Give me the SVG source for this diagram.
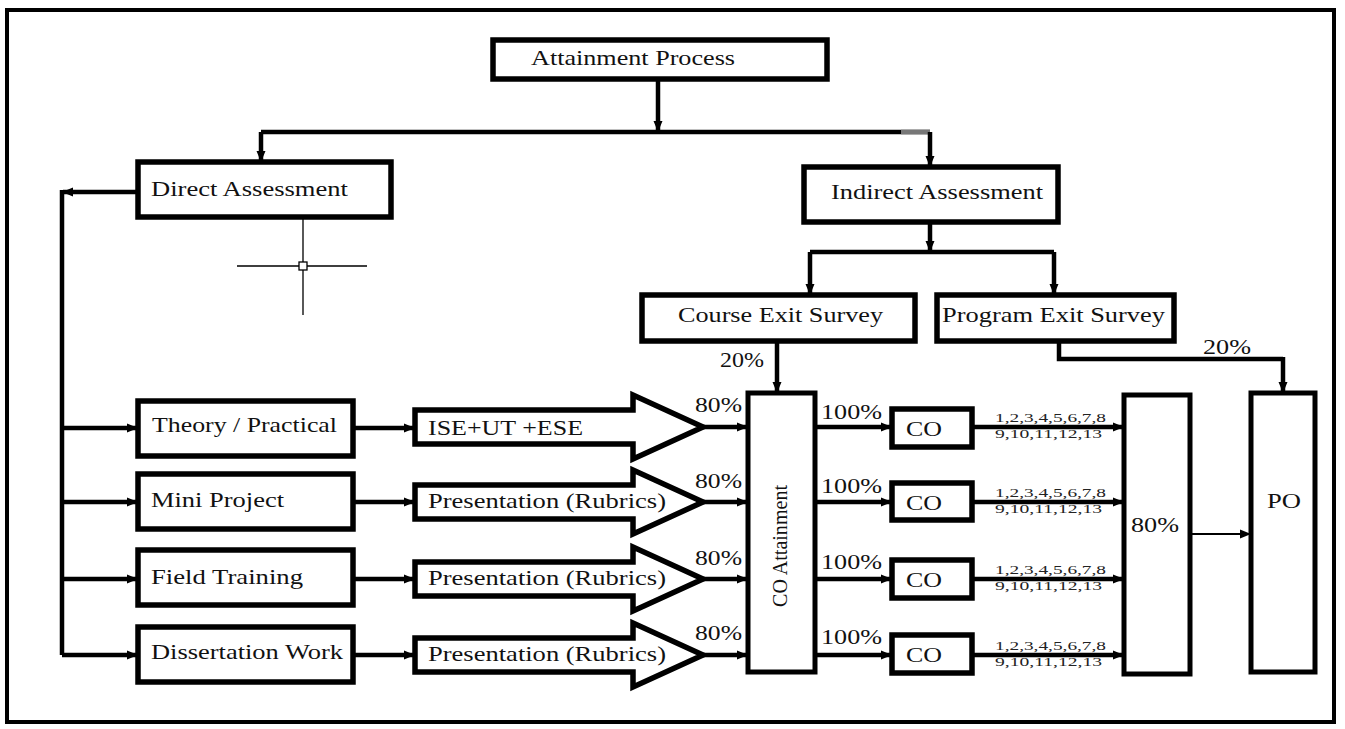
<svg xmlns="http://www.w3.org/2000/svg" width="1345" height="729" viewBox="0 0 1345 729">
<defs>
<marker id="ah" markerUnits="userSpaceOnUse" markerWidth="12" markerHeight="10" refX="10" refY="5" orient="auto" viewBox="0 0 12 10">
<path d="M0,0.5 L11,5 L0,9.5 z" fill="#000"/>
</marker>
<style>
.box{fill:#fff;stroke:#000;stroke-width:5.5}
.tall{fill:#fff;stroke:#000;stroke-width:5}
.blk{fill:#fff;stroke:#000;stroke-width:5.5;stroke-linejoin:miter}
.c{fill:none;stroke:#000;stroke-width:4.5}
.ca{fill:none;stroke:#000;stroke-width:4.5;marker-end:url(#ah)}
.t{font-family:"Liberation Serif","Times New Roman",serif;font-size:22px;fill:#111}
.s{font-family:"Liberation Serif","Times New Roman",serif;font-size:12px;fill:#222}
.thin{fill:none;stroke:#000;stroke-width:1.3}
</style>
</defs>
<rect x="7" y="10" width="1327" height="712" fill="#fff" stroke="#000" stroke-width="4"/>

<g id="connectors">
<path class="ca" d="M658,79 V131"/>
<path class="c" d="M261,132 H930"/>
<path d="M901,132 H930" stroke="#777" stroke-width="4.5" fill="none"/>
<path class="ca" d="M261,132 V161"/>
<path class="ca" d="M930,132 V166"/>
<path class="ca" d="M930,222 V251"/>
<path class="c" d="M810,252 H1054"/>
<path class="ca" d="M810,252 V294"/>
<path class="ca" d="M1054,252 V294"/>
<path class="ca" d="M777,342 V392"/>
<path class="c" d="M1059,342 V359 H1283"/>
<path class="ca" d="M1283,357 V392"/>
<path class="ca" d="M138,192 H63"/>
<path class="c" d="M62,190 V655"/>
<path class="ca" d="M62,428 H137"/>
<path class="ca" d="M62,502 H137"/>
<path class="ca" d="M62,579 H137"/>
<path class="ca" d="M62,655 H137"/>
<path class="ca" d="M353,428 H414"/>
<path class="ca" d="M353,502 H414"/>
<path class="ca" d="M353,579 H414"/>
<path class="ca" d="M353,655 H414"/>
<path class="ca" d="M703,427 H747"/>
<path class="ca" d="M703,502 H747"/>
<path class="ca" d="M703,579 H747"/>
<path class="ca" d="M703,655 H747"/>
<path class="ca" d="M815,427 H891"/>
<path class="ca" d="M815,502 H891"/>
<path class="ca" d="M815,579 H891"/>
<path class="ca" d="M815,655 H891"/>
<path class="ca" d="M972,427 H1123"/>
<path class="ca" d="M972,502 H1123"/>
<path class="ca" d="M972,579 H1123"/>
<path class="ca" d="M972,655 H1123"/>
<path d="M1190,534 H1250" fill="none" stroke="#000" stroke-width="2" marker-end="url(#ah)"/>
</g>

<g id="crosshair">
<path class="thin" d="M303,217 V315 M237,266 H367"/>
<rect x="299" y="262" width="8" height="8" fill="#fff" stroke="#000" stroke-width="1.3"/>
</g>

<g id="attainment-process"><rect class="box" x="493" y="40" width="334" height="39"/><text class="t" x="531" y="65" textLength="204" lengthAdjust="spacingAndGlyphs">Attainment Process</text></g>
<g id="direct-assessment"><rect class="box" x="138" y="162" width="253" height="55"/><text class="t" x="151" y="196" textLength="197" lengthAdjust="spacingAndGlyphs">Direct Assessment</text></g>
<g id="indirect-assessment"><rect class="box" x="804" y="167" width="254" height="55"/><text class="t" x="831" y="199" textLength="212" lengthAdjust="spacingAndGlyphs">Indirect Assessment</text></g>
<g id="course-exit-survey"><rect class="box" x="642" y="295" width="273" height="46"/><text class="t" x="678" y="322" textLength="205" lengthAdjust="spacingAndGlyphs">Course Exit Survey</text></g>
<g id="program-exit-survey"><rect class="box" x="937" y="295" width="237" height="46"/><text class="t" x="942" y="322" textLength="223" lengthAdjust="spacingAndGlyphs">Program Exit Survey</text></g>
<text class="t" x="720" y="367" textLength="44" lengthAdjust="spacingAndGlyphs">20%</text>
<text class="t" x="1203" y="354" textLength="48" lengthAdjust="spacingAndGlyphs">20%</text>

<g id="theory-practical"><rect class="box" x="138" y="401" width="215" height="55"/><text class="t" x="152" y="432" textLength="185" lengthAdjust="spacingAndGlyphs">Theory / Practical</text></g>
<g id="mini-project"><rect class="box" x="138" y="474" width="215" height="55"/><text class="t" x="151" y="507" textLength="133" lengthAdjust="spacingAndGlyphs">Mini Project</text></g>
<g id="field-training"><rect class="box" x="138" y="550" width="215" height="55"/><text class="t" x="151" y="584" textLength="152" lengthAdjust="spacingAndGlyphs">Field Training</text></g>
<g id="dissertation-work"><rect class="box" x="138" y="627" width="215" height="55"/><text class="t" x="151" y="659" textLength="192" lengthAdjust="spacingAndGlyphs">Dissertation Work</text></g>

<g id="ise-ut-ese"><path class="blk" d="M415,410 H633 V395 L703,427 L633,459 V444 H415 Z"/><text class="t" x="428" y="435" textLength="155" lengthAdjust="spacingAndGlyphs">ISE+UT +ESE</text></g>
<g id="presentation-1"><path class="blk" d="M415,485 H633 V470 L703,502 L633,534 V519 H415 Z"/><text class="t" x="428" y="508" textLength="238" lengthAdjust="spacingAndGlyphs">Presentation (Rubrics)</text></g>
<g id="presentation-2"><path class="blk" d="M415,562 H633 V547 L703,579 L633,611 V596 H415 Z"/><text class="t" x="428" y="585" textLength="238" lengthAdjust="spacingAndGlyphs">Presentation (Rubrics)</text></g>
<g id="presentation-3"><path class="blk" d="M415,638 H633 V623 L703,655 L633,687 V672 H415 Z"/><text class="t" x="428" y="661" textLength="238" lengthAdjust="spacingAndGlyphs">Presentation (Rubrics)</text></g>

<g id="labels-80">
<text class="t" x="695" y="412" textLength="47" lengthAdjust="spacingAndGlyphs">80%</text>
<text class="t" x="695" y="488" textLength="47" lengthAdjust="spacingAndGlyphs">80%</text>
<text class="t" x="695" y="565" textLength="47" lengthAdjust="spacingAndGlyphs">80%</text>
<text class="t" x="695" y="640" textLength="47" lengthAdjust="spacingAndGlyphs">80%</text>
</g>

<g id="co-attainment"><rect class="tall" x="748" y="393" width="67" height="279"/><text class="t" transform="translate(787,546) rotate(-90)" text-anchor="middle" textLength="122" lengthAdjust="spacingAndGlyphs">CO Attainment</text></g>

<g id="labels-100">
<text class="t" x="821" y="419" textLength="61" lengthAdjust="spacingAndGlyphs">100%</text>
<text class="t" x="821" y="493" textLength="61" lengthAdjust="spacingAndGlyphs">100%</text>
<text class="t" x="821" y="569" textLength="61" lengthAdjust="spacingAndGlyphs">100%</text>
<text class="t" x="821" y="644" textLength="61" lengthAdjust="spacingAndGlyphs">100%</text>
</g>

<g id="co-1"><rect class="box" x="892" y="409" width="80" height="38"/><text class="t" x="906" y="436" textLength="36" lengthAdjust="spacingAndGlyphs">CO</text></g>
<g id="co-2"><rect class="box" x="892" y="483" width="80" height="37"/><text class="t" x="906" y="510" textLength="36" lengthAdjust="spacingAndGlyphs">CO</text></g>
<g id="co-3"><rect class="box" x="892" y="560" width="80" height="38"/><text class="t" x="906" y="587" textLength="36" lengthAdjust="spacingAndGlyphs">CO</text></g>
<g id="co-4"><rect class="box" x="892" y="635" width="80" height="38"/><text class="t" x="906" y="662" textLength="36" lengthAdjust="spacingAndGlyphs">CO</text></g>

<g id="po-numbers">
<text class="s" x="995" y="422" textLength="111" lengthAdjust="spacingAndGlyphs">1,2,3,4,5,6,7,8</text>
<text class="s" x="995" y="438" textLength="107" lengthAdjust="spacingAndGlyphs">9,10,11,12,13</text>
<text class="s" x="995" y="497" textLength="111" lengthAdjust="spacingAndGlyphs">1,2,3,4,5,6,7,8</text>
<text class="s" x="995" y="513" textLength="107" lengthAdjust="spacingAndGlyphs">9,10,11,12,13</text>
<text class="s" x="995" y="574" textLength="111" lengthAdjust="spacingAndGlyphs">1,2,3,4,5,6,7,8</text>
<text class="s" x="995" y="590" textLength="107" lengthAdjust="spacingAndGlyphs">9,10,11,12,13</text>
<text class="s" x="995" y="650" textLength="111" lengthAdjust="spacingAndGlyphs">1,2,3,4,5,6,7,8</text>
<text class="s" x="995" y="666" textLength="107" lengthAdjust="spacingAndGlyphs">9,10,11,12,13</text>
</g>

<g id="co-80"><rect class="tall" x="1124" y="395" width="66" height="279"/><text class="t" x="1131" y="532" textLength="48" lengthAdjust="spacingAndGlyphs">80%</text></g>
<g id="po"><rect class="tall" x="1251" y="393" width="64" height="279"/><text class="t" x="1267" y="508" textLength="34" lengthAdjust="spacingAndGlyphs">PO</text></g>
</svg>
